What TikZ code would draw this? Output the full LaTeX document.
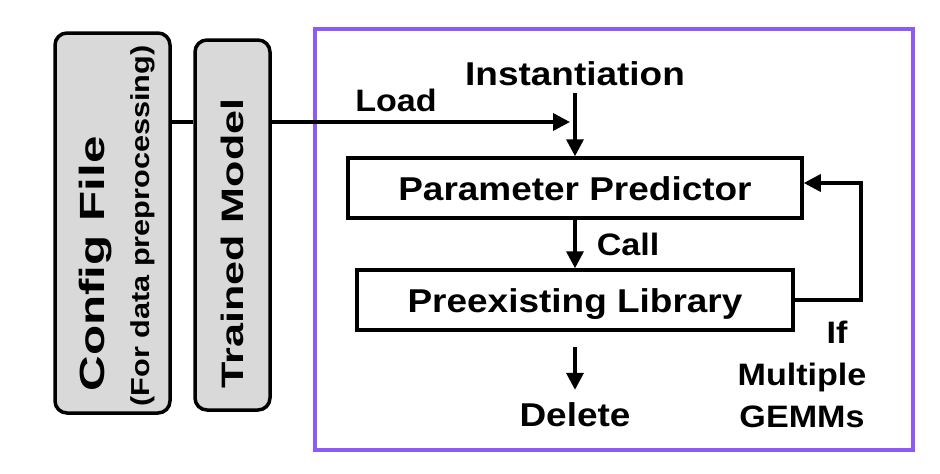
\documentclass[tikz,border=0pt]{standalone}
\usepackage{fontspec}
\setmainfont{Liberation Sans}
\usepackage{graphicx}
\usetikzlibrary{positioning,arrows.meta}
\definecolor{runpurple}{RGB}{140,90,245}
\newcommand{\stretchtext}[2]{\scalebox{#1}[1]{#2}}
\tikzset{
  flowbox/.style={draw, line width=3.5pt, fill=white, inner sep=0pt,
    text height=24pt, text depth=0pt, font=\fontsize{33}{38}\selectfont\bfseries},
  sidebox/.style={draw, line width=3.5pt, rounded corners=12pt, fill=black!15},
  flowarrow/.style={-{Triangle[length=17pt,width=17pt]}, line width=3.5pt},
  flowline/.style={line width=3.5pt},
  steptext/.style={inner sep=0pt, text height=24pt, text depth=0pt,
    font=\fontsize{33}{38}\selectfont\bfseries},
  edgetext/.style={inner sep=0pt, align=center, font=\fontsize{31}{42}\selectfont\bfseries},
}

\begin{document}
\begin{tikzpicture}[x=1pt, y=-1pt,
    sidetext/.style={rotate=90, inner sep=0pt, text depth=0pt},
    runframe/.style={draw=runpurple, line width=3.5pt, minimum width=598pt, minimum height=421pt}]
  \useasboundingbox (0,0) rectangle (940,474);
  \node[sidebox, minimum width=115pt, minimum height=380pt] (cfg) at (112.5,223) {};
  \node[sidebox, minimum width=75pt, minimum height=370pt] (trained) at (232.5,225) {};
  \node[sidetext, text height=25pt, font=\fontsize{35}{40}\selectfont\bfseries] (cfgname) at (92,264) {\stretchtext{1.41}{Config File}};
  \node[sidetext, text height=19pt, font=\fontsize{26}{30}\selectfont\bfseries] (cfgnote) at (140,226) {\stretchtext{1.18}{(For data preprocessing)}};
  \node[sidetext, text height=22pt, font=\fontsize{31}{34}\selectfont\bfseries] (trainedname) at (232,243.5) {\stretchtext{1.39}{Trained Model}};

  \node[runframe] (runtime) at (614,239.5) {};
  \node[steptext] (inst) at (575,73) {\stretchtext{1.12}{Instantiation}};
  \node[edgetext] (load) at (396,100) {\stretchtext{1.1}{Load}};
  \node[flowbox, minimum width=454pt, minimum height=60pt] (pred) at (575,188) {\stretchtext{1.12}{Parameter Predictor}};
  \node[flowbox, minimum width=436pt, minimum height=60pt] (lib) at (575,300) {\stretchtext{1.12}{Preexisting Library}};
  \node[steptext, anchor=base] (delete) at (575,426) {\stretchtext{1.12}{Delete}};
  \node[edgetext] (gemms) at (802,374) {\hspace*{70pt}\stretchtext{1.1}{If}\\\stretchtext{1.1}{Multiple}\\\stretchtext{1.1}{GEMMs}};

  \coordinate (feed) at (0,122);
  \coordinate (loadtip) at (570,122);
  \coordinate (loopcorner) at (861,183);
  \draw[flowline] (cfg.east |- feed) -- (trained.west |- feed);
  \draw[flowarrow] (trained.east |- feed) -- (loadtip);
  \draw[flowarrow] ([yshift=-8pt]inst.south) -- (pred.north);
  \draw[flowarrow] (pred) -- node[edgetext, right=20pt] {\stretchtext{1.1}{Call}} (lib);
  \draw[flowarrow] ([yshift=-15pt]lib.south) -- ([yshift=12pt]delete.north);
  \draw[flowarrow] (lib.east) -| (loopcorner) -- (pred.east |- loopcorner);
\end{tikzpicture}
\end{document}
